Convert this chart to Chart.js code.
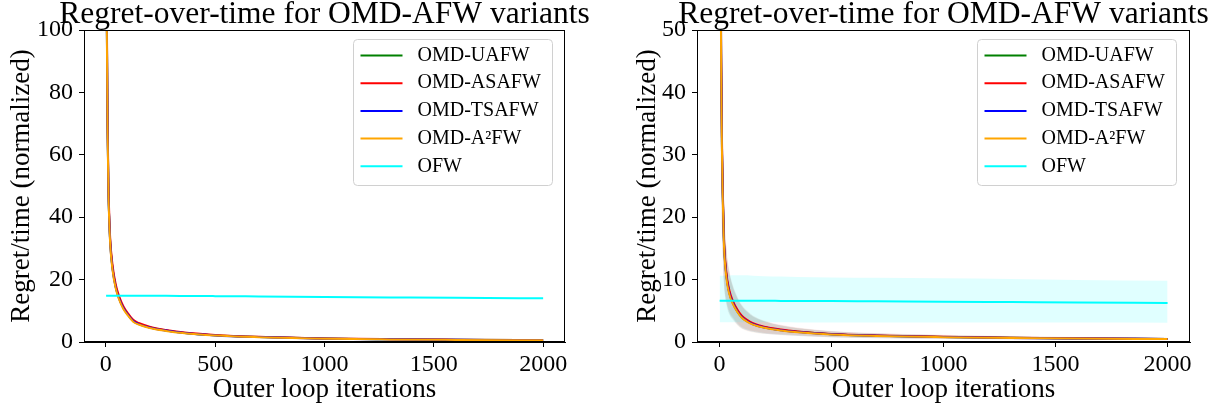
<!DOCTYPE html>
<html><head><meta charset="utf-8">
<script src="https://cdn.jsdelivr.net/npm/chart.js@4"></script>
<style>
html,body{margin:0;padding:0;background:#fff;width:1217px;height:408px;overflow:hidden;}
.wrap{position:absolute;top:0;height:408px;}
#w1{left:0;width:610px;}
#w2{left:610px;width:607px;}
canvas{display:block;}
</style></head><body>
<div class="wrap" id="w1"><canvas id="c1" width="610" height="408"></canvas></div>
<div class="wrap" id="w2"><canvas id="c2" width="607" height="408"></canvas></div>
<script>
// ---------- data ----------
const iterations = [1,3,5,8,12,15,20,30,45,60,80,100,125,150,200,275,350,500,700,1000,1300,1600,2000];
const seriesNames = ['OMD-UAFW','OMD-ASAFW','OMD-TSAFW','OMD-A\u00B2FW','OFW'];
const seriesColors = ['#008000','#ff0000','#0000ff','#ffa500','#00ffff'];
const xTicks = [0,500,1000,1500,2000];
const leftYTicks = [0,20,40,60,80,100];
const rightYTicks = [0,10,20,30,40,50];
const plotTitle = 'Regret-over-time for OMD-AFW variants';
const xLabel = 'Outer loop iterations';
const yLabel = 'Regret/time (normalized)';

// left panel
const leftUAFW  = [390,146,97,68,48,40.5,32,24,17.8,14.2,11.0,8.9,6.8,5.8,4.7,3.7,3.0,2.15,1.6,1.1,0.87,0.72,0.57];
const leftASAFW = [400,150,100,70,50,42,33,25,18.5,14.8,11.5,9.3,7.1,6.1,4.9,3.85,3.1,2.25,1.65,1.15,0.9,0.75,0.6];
const leftTSAFW = [385,144,96,67,47.5,40,31.5,23.7,17.5,14.0,10.9,8.8,6.7,5.75,4.65,3.65,2.95,2.12,1.57,1.08,0.85,0.7,0.56];
const leftA2FW  = [380,142,94,66,47,39.5,31,23.3,17.2,13.7,10.6,8.6,6.5,5.6,4.5,3.55,2.85,2.05,1.52,1.05,0.82,0.68,0.54];
const leftOFW   = [14.85,14.85,14.85,14.85,14.85,14.85,14.85,14.85,14.85,14.85,14.85,14.85,14.84,14.84,14.82,14.8,14.77,14.7,14.6,14.45,14.3,14.15,14.0];

// right panel
const rightUAFW  = [245,107,68,45,30,23.8,16.5,11.1,7.9,6.4,5.0,4.05,3.38,2.9,2.37,1.93,1.64,1.26,1.02,0.82,0.68,0.58,0.49];
const rightASAFW = [250,110,70,46,31,24.5,17,11.5,8.2,6.6,5.2,4.2,3.5,3.0,2.45,2.0,1.7,1.3,1.05,0.85,0.7,0.6,0.5];
const rightTSAFW = [240,105,67,44,29.5,23.3,16.2,10.9,7.75,6.25,4.9,3.97,3.3,2.84,2.32,1.89,1.6,1.23,1.0,0.8,0.66,0.57,0.48];
const rightA2FW  = [235,103,65,43,29,22.8,15.8,10.6,7.55,6.1,4.8,3.88,3.22,2.78,2.27,1.85,1.57,1.2,0.97,0.78,0.65,0.56,0.47];
const rightOFW   = [6.62,6.62,6.62,6.62,6.62,6.62,6.62,6.62,6.62,6.62,6.61,6.61,6.6,6.6,6.6,6.59,6.58,6.56,6.52,6.47,6.4,6.33,6.25];
const rightOFWUpper = [10.6,10.6,10.6,10.6,10.6,10.6,10.6,10.62,10.65,10.68,10.7,10.7,10.68,10.62,10.55,10.48,10.42,10.35,10.28,10.2,10.08,9.95,9.8];
const rightOFWLower = [3.15,3.15,3.15,3.15,3.15,3.15,3.15,3.15,3.15,3.15,3.15,3.15,3.15,3.15,3.15,3.15,3.14,3.14,3.13,3.13,3.12,3.11,3.1];
const rightOMDSpread = [100,45,28,18,12.5,9.5,6.8,4.5,3.3,2.6,2.15,1.8,1.5,1.25,1.0,0.75,0.62,0.48,0.38,0.3,0.25,0.21,0.18];

// ---------- helpers ----------
const FONT = '"Liberation Serif", "Times New Roman", serif';
const pts = arr => iterations.map((x, k) => ({x, y: arr[k]}));
function rgba(hex, a) {
  const n = parseInt(hex.slice(1), 16);
  return `rgba(${(n>>16)&255},${(n>>8)&255},${n&255},${a})`;
}

const framePlugin = {
  id: 'frame',
  afterDatasetsDraw(chart) {
    const a = chart.chartArea, ctx = chart.ctx;
    ctx.save();
    ctx.strokeStyle = '#000'; ctx.lineWidth = 1;
    ctx.strokeRect(Math.round(a.left) + 0.5, Math.round(a.top) + 0.5,
                   Math.round(a.right - a.left) - 1, Math.round(a.bottom - a.top) - 1);
    ctx.restore();
  }
};

const axesTitlePlugin = {
  id: 'axesTitle',
  afterDraw(chart, args, o) {
    const {ctx, chartArea: a} = chart;
    ctx.save();
    ctx.font = o.size + 'px ' + FONT;
    ctx.fillStyle = '#000';
    ctx.textAlign = 'center';
    ctx.textBaseline = 'alphabetic';
    ctx.fillText(o.text, (a.left + a.right) / 2, a.top - o.gap);
    ctx.restore();
  }
};

const boxLegendPlugin = {
  id: 'boxLegend',
  afterDraw(chart, args, o) {
    const {ctx, chartArea: a} = chart;
    const items = chart.data.datasets.filter(d => d.inLegend).sort((p, q) => p.legendIndex - q.legendIndex);
    const w = o.width, h = o.height;
    const x = Math.round(a.right - o.right - w) + 0.5, y = Math.round(a.top + o.top) + 0.5;
    ctx.save();
    ctx.beginPath();
    ctx.roundRect(x, y, w, h, 4);
    ctx.fillStyle = 'rgba(255,255,255,0.8)';
    ctx.fill();
    ctx.strokeStyle = '#d0d0d0'; ctx.lineWidth = 1; ctx.stroke();
    ctx.font = '20px ' + FONT;
    ctx.textBaseline = 'middle';
    items.forEach((d, i) => {
      const cy = y + 16 + i * 27.7;
      ctx.strokeStyle = d.borderColor; ctx.lineWidth = 2;
      ctx.beginPath(); ctx.moveTo(x + 7, cy); ctx.lineTo(x + 49, cy); ctx.stroke();
      ctx.fillStyle = '#000';
      ctx.fillText(d.label, x + 64, cy);
    });
    ctx.restore();
  }
};

function makeChart(id, cfg) {
  const datasets = [];
  if (cfg.ofwBand) {
    datasets.push({data: pts(cfg.ofwBand[0]), borderWidth: 0, pointRadius: 0, fill: false, order: 10, cubicInterpolationMode: 'monotone'});
    datasets.push({data: pts(cfg.ofwBand[1]), borderWidth: 0, pointRadius: 0, fill: '-1', backgroundColor: rgba(seriesColors[4], 0.12), order: 10, cubicInterpolationMode: 'monotone'});
  }
  if (cfg.spread) {
    cfg.means.slice(0, 4).forEach((m, i) => {
      const up = m.map((v, k) => v + cfg.spread[k]);
      const lo = m.map((v, k) => Math.max(v - cfg.spread[k], 0));
      datasets.push({data: pts(up), borderWidth: 0, pointRadius: 0, fill: false, order: 11 + i, cubicInterpolationMode: 'monotone'});
      datasets.push({data: pts(lo), borderWidth: 0, pointRadius: 0, fill: '-1', backgroundColor: rgba(seriesColors[i], 0.075), order: 11 + i, cubicInterpolationMode: 'monotone'});
    });
  }
  cfg.means.forEach((m, i) => {
    datasets.push({
      label: seriesNames[i], inLegend: true, legendIndex: i,
      data: pts(m), borderColor: seriesColors[i], backgroundColor: seriesColors[i],
      borderWidth: 2, pointRadius: 0, fill: false, order: 4 - i,
      cubicInterpolationMode: 'monotone'
    });
  });

  return new Chart(document.getElementById(id), {
    type: 'line',
    data: {datasets},
    plugins: [framePlugin, axesTitlePlugin, boxLegendPlugin],
    options: {
      responsive: false, animation: false, devicePixelRatio: 1, events: [],
      layout: {padding: cfg.padding},
      plugins: {
        legend: {display: false},
        tooltip: {enabled: false},
        title: {display: false},
        axesTitle: {text: plotTitle, size: 31.5, gap: 7},
        boxLegend: {width: 199, height: 146, right: cfg.legendRight, top: 9}
      },
      scales: {
        x: {
          type: 'linear', min: -100, max: 2100,
          afterBuildTicks: s => { s.ticks = xTicks.map(v => ({value: v})); },
          afterFit: s => { s.height = 66; },
          ticks: {color: '#000', font: {family: FONT, size: 24}, padding: 3, maxRotation: 0,
                  callback: v => String(v)},
          grid: {drawOnChartArea: false, drawTicks: true, tickLength: 5, tickColor: '#000'},
          border: {display: true, color: '#000'},
          title: {display: true, text: xLabel, color: '#000', font: {family: FONT, size: 27}, padding: {top: 0, bottom: 2}}
        },
        y: {
          type: 'linear', min: 0, max: cfg.yMax,
          afterBuildTicks: s => { s.ticks = cfg.yTicks.map(v => ({value: v})); },
          afterFit: s => { s.width = cfg.yWidth; },
          ticks: {color: '#000', font: {family: FONT, size: 24}, padding: 6, callback: v => String(v)},
          grid: {drawOnChartArea: false, drawTicks: true, tickLength: 5, tickColor: '#000'},
          border: {display: true, color: '#000'},
          title: {display: true, text: yLabel, color: '#000', font: {family: FONT, size: 27}, padding: {top: 6, bottom: 0}}
        }
      }
    }
  });
}

makeChart('c1', {
  means: [leftUAFW, leftASAFW, leftTSAFW, leftA2FW, leftOFW],
  yMax: 100, yTicks: leftYTicks, yWidth: 84,
  padding: {left: 0, right: 45, top: 30, bottom: 0}, legendRight: 13
});
makeChart('c2', {
  means: [rightUAFW, rightASAFW, rightTSAFW, rightA2FW, rightOFW],
  spread: rightOMDSpread, ofwBand: [rightOFWUpper, rightOFWLower],
  yMax: 50, yTicks: rightYTicks, yWidth: 71,
  padding: {left: 16, right: 27, top: 30, bottom: 0}, legendRight: 14
});
</script>
</body></html>
